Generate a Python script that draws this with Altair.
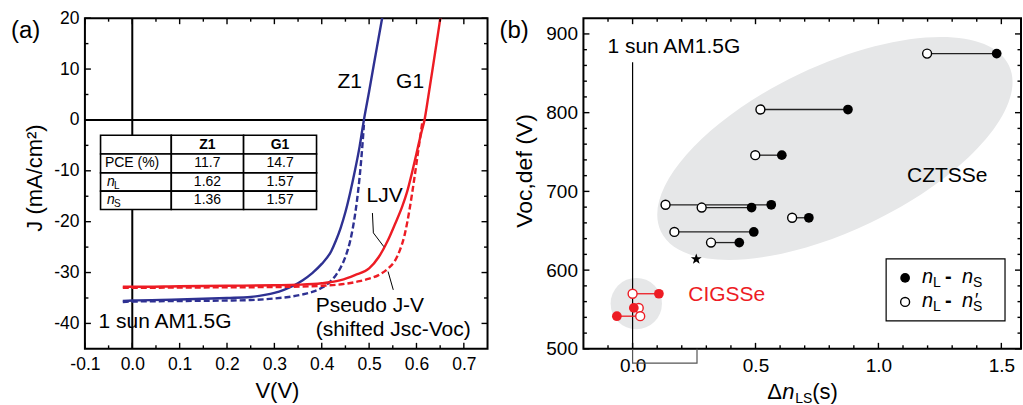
import altair as alt
import pandas as pd

FONT = "Liberation Sans"
BLUE = "#2e3192"
RED = "#ed1c24"
SHADE = "#e6e7e8"

# ---------------- Panel (a) data: J-V curves ----------------
Z1_LJV_V = [-0.02, 0.00, 0.10, 0.20, 0.25, 0.28, 0.30, 0.32, 0.34, 0.36, 0.38, 0.40, 0.42, 0.43, 0.44, 0.45, 0.46, 0.47, 0.48, 0.489, 0.50, 0.51, 0.52, 0.53]
Z1_LJV_J = [-35.6, -35.5, -35.3, -35.0, -34.8, -34.4, -34.0, -33.4, -32.6, -31.5, -30.1, -28.3, -25.8, -23.7, -21.2, -18.1, -14.3, -10.0, -5.2, 0.0, 5.6, 10.9, 16.1, 21.3]
Z1_PJV_V = [-0.02, 0.00, 0.10, 0.20, 0.25, 0.30, 0.33, 0.36, 0.38, 0.40, 0.41, 0.42, 0.43, 0.44, 0.45, 0.46, 0.47, 0.475, 0.48, 0.485, 0.489]
Z1_PJV_J = [-35.8, -35.7, -35.6, -35.5, -35.4, -35.1, -34.8, -34.3, -33.8, -33.0, -32.4, -31.6, -30.5, -29.0, -26.9, -23.8, -18.8, -15.4, -11.2, -6.0, -1.0]
G1_LJV_V = [-0.02, 0.00, 0.10, 0.20, 0.30, 0.35, 0.40, 0.44, 0.47, 0.50, 0.52, 0.54, 0.555, 0.57, 0.58, 0.59, 0.60, 0.61, 0.617, 0.625, 0.635, 0.645, 0.652]
G1_LJV_J = [-32.8, -32.8, -32.7, -32.6, -32.5, -32.4, -32.1, -31.5, -30.5, -29.2, -27.0, -23.6, -20.4, -17.0, -14.2, -10.6, -6.6, -2.6, 0.0, 4.6, 10.6, 16.7, 21.0]
G1_PJV_V = [-0.02, 0.00, 0.10, 0.20, 0.30, 0.40, 0.45, 0.48, 0.50, 0.52, 0.54, 0.555, 0.565, 0.575, 0.585, 0.595, 0.605, 0.613]
G1_PJV_J = [-33.0, -33.0, -32.95, -32.9, -32.85, -32.6, -32.2, -31.7, -31.2, -30.5, -29.2, -27.6, -25.6, -22.6, -17.8, -11.8, -5.2, 0.0]

# inset table
TABLE_HEADER = ["Z1", "G1"]
TABLE_ROW_NAMES = ["PCE (%)", "n", "n"]
TABLE_ROW_SUBS = ["L", "S"]
TABLE_Z1 = ["11.7", "1.62", "1.36"]
TABLE_G1 = ["14.7", "1.57", "1.57"]
TABLE_COL_EDGES = [-0.067, 0.0824, 0.235, 0.389]      # in V
TABLE_ROW_EDGES = [-3.0, -6.7, -10.4, -14.0, -17.6]   # in J

# leader lines
LJV_LEADER_V = [0.507, 0.509, 0.531]
LJV_LEADER_J = [-18.3, -22.2, -24.9]
PJV_LEADER_V = [0.540, 0.551]
PJV_LEADER_J = [-29.8, -33.4]

A_X_MAJOR = [-0.1, 0.0, 0.1, 0.2, 0.3, 0.4, 0.5, 0.6, 0.7]
A_X_MINOR = [-0.05, 0.05, 0.15, 0.25, 0.35, 0.45, 0.55, 0.65]
A_Y_MAJOR = [-40, -30, -20, -10, 0, 10, 20]
A_Y_MINOR = [-35, -25, -15, -5, 5, 15]

# ---------------- Panel (b) data ----------------
CZTS_VOC = [875, 804, 746, 683, 679.5, 666.5, 648.5, 635]
CZTS_DN_S = [1.481, 0.876, 0.607, 0.564, 0.484, 0.717, 0.493, 0.434]
CZTS_DN_SP = [1.198, 0.520, 0.499, 0.134, 0.281, 0.649, 0.170, 0.319]
CIGS_VOC = [570, 552, 541.5]
CIGS_DN_S = [0.107, 0.005, -0.064]
CIGS_DN_SP = [0.0, 0.025, 0.031]
STAR_DN = [0.259]
STAR_VOC = [614]
ELLIPSE_CENTER = [0.823, 754.6]
CIRCLE_CENTER = [0.015, 557.5]
SUN_LINE_DN = [0.0, 0.0]
SUN_LINE_VOC = [864, 500]
BRACKET_DN = [0.0, 0.0, 0.262, 0.262]
BRACKET_VOC = [500, 482, 482, 500]

B_X_MAJOR = [0.0, 0.5, 1.0, 1.5]
B_X_MINOR = [-0.1, 0.1, 0.2, 0.3, 0.4, 0.6, 0.7, 0.8, 0.9, 1.1, 1.2, 1.3, 1.4]
B_Y_MAJOR = [500, 600, 700, 800, 900]
B_Y_MINOR = [520, 540, 560, 580, 620, 640, 660, 680, 720, 740, 760, 780, 820, 840, 860, 880]

AW, AH = 403, 331
BW, BH = 438, 331

xa = alt.Scale(domain=[-0.1, 0.75], nice=False, zero=False)
ya = alt.Scale(domain=[-45, 20], nice=False, zero=False)
xb = alt.Scale(domain=[-0.2, 1.58], nice=False, zero=False)
yb = alt.Scale(domain=[500, 920], nice=False, zero=False)

ONE = pd.DataFrame({"k": [0]})

ELLIPSE_PATH = "M-1,0A1,0.4276,0,1,1,1,0A1,0.4276,0,1,1,-1,0"
STAR_PATH = ("M0,-1L0.235,-0.324L0.951,-0.309L0.38,0.124L0.588,0.809L0,0.4"
             "L-0.588,0.809L-0.38,0.124L-0.951,-0.309L-0.235,-0.324L0,-1")


def axis(values, fmt, size, pad):
    return alt.Axis(values=values, labelExpr="replace(format(datum.value, '%s'), '\u2212', '-')" % fmt,
                    ticks=False, tickSize=0, domain=False, grid=False, title=None,
                    labelFontSize=size, labelPadding=pad, labelColor="black", labelFont=FONT,
                    labelFlush=False, labelOverlap=False)


AXA_X = axis(A_X_MAJOR, ".1f", 17.5, 7)
AXA_Y = axis(A_Y_MAJOR, "d", 17.5, 6)
AXB_X = axis(B_X_MAJOR, ".1f", 19, 8)
AXB_Y = axis(B_Y_MAJOR, "d", 19, 6)


def XA(f): return alt.X(f, scale=xa, axis=AXA_X)
def YA(f): return alt.Y(f, scale=ya, axis=AXA_Y)
def XB(f): return alt.X(f, scale=xb, axis=AXB_X)
def YB(f): return alt.Y(f, scale=yb, axis=AXB_Y)


def ptext(text, x, y, size, color="black", align="left", baseline="alphabetic",
          style="normal", weight="normal", angle=0):
    return alt.Chart(ONE).mark_text(
        text=text, fontSize=size, font=FONT, color=color, align=align,
        baseline=baseline, fontStyle=style, fontWeight=weight, angle=angle
    ).encode(x=alt.value(x), y=alt.value(y))


def ticks(xvals, yvals, X, Y, length, W, H):
    out = []
    dx = pd.DataFrame({"v": xvals})
    dy = pd.DataFrame({"v": yvals})
    out.append(alt.Chart(dx).mark_rule(color="black", strokeWidth=1.4).encode(
        x=X("v:Q"), y=alt.value(H), y2=alt.value(H - length)))
    out.append(alt.Chart(dx).mark_rule(color="black", strokeWidth=1.4).encode(
        x=X("v:Q"), y=alt.value(0), y2=alt.value(length)))
    out.append(alt.Chart(dy).mark_rule(color="black", strokeWidth=1.4).encode(
        y=Y("v:Q"), x=alt.value(0), x2=alt.value(length)))
    out.append(alt.Chart(dy).mark_rule(color="black", strokeWidth=1.4).encode(
        y=Y("v:Q"), x=alt.value(W), x2=alt.value(W - length)))
    return out


# ================= Panel (a) =================
a_layers = []
a_layers.append(alt.Chart(pd.DataFrame({"V": [0.0]})).mark_rule(color="black", strokeWidth=2).encode(x=XA("V:Q")))
a_layers.append(alt.Chart(pd.DataFrame({"J": [0.0]})).mark_rule(color="black", strokeWidth=2).encode(y=YA("J:Q")))


def curve(V, J, color, dash):
    d = pd.DataFrame({"V": V, "J": J})
    kw = dict(color=color, strokeWidth=2.4, clip=True, interpolate="monotone")
    if dash:
        kw["strokeDash"] = [6, 3]
    return alt.Chart(d).mark_line(**kw).encode(x=XA("V:Q"), y=YA("J:Q"))


a_layers += [curve(Z1_PJV_V, Z1_PJV_J, BLUE, True), curve(Z1_LJV_V, Z1_LJV_J, BLUE, False),
             curve(G1_PJV_V, G1_PJV_J, RED, True), curve(G1_LJV_V, G1_LJV_J, RED, False)]

cells = []
for r in range(len(TABLE_ROW_EDGES) - 1):
    for c in range(len(TABLE_COL_EDGES) - 1):
        cells.append({"xa0": TABLE_COL_EDGES[c], "xa1": TABLE_COL_EDGES[c + 1],
                      "ya0": TABLE_ROW_EDGES[r], "ya1": TABLE_ROW_EDGES[r + 1]})
a_layers.append(alt.Chart(pd.DataFrame(cells)).mark_rect(fill="white", stroke="black", strokeWidth=1.6).encode(
    x=XA("xa0:Q"), x2="xa1", y=YA("ya0:Q"), y2="ya1"))

col_c = [(TABLE_COL_EDGES[i] + TABLE_COL_EDGES[i + 1]) / 2 for i in range(3)]
row_c = [(TABLE_ROW_EDGES[i] + TABLE_ROW_EDGES[i + 1]) / 2 for i in range(4)]
hdr = pd.DataFrame({"t": TABLE_HEADER, "x": col_c[1:], "y": [row_c[0]] * 2})
a_layers.append(alt.Chart(hdr).mark_text(fontSize=14, font=FONT, fontWeight="bold", baseline="middle", color="black").encode(
    x=XA("x:Q"), y=YA("y:Q"), text="t:N"))
vals = pd.DataFrame({"t": TABLE_Z1 + TABLE_G1, "x": [col_c[1]] * 3 + [col_c[2]] * 3, "y": row_c[1:] * 2})
a_layers.append(alt.Chart(vals).mark_text(fontSize=14, font=FONT, baseline="middle", color="black").encode(
    x=XA("x:Q"), y=YA("y:Q"), text="t:N"))
names = pd.DataFrame({"t": TABLE_ROW_NAMES, "y": row_c[1:]})
a_layers.append(alt.Chart(names.iloc[:1]).mark_text(fontSize=14, font=FONT, baseline="middle", align="left", color="black").encode(
    x=alt.value(20), y=YA("y:Q"), text="t:N"))
a_layers.append(alt.Chart(names.iloc[1:].reset_index(drop=True)).mark_text(fontSize=14, font=FONT, baseline="middle", align="left", fontStyle="italic", color="black").encode(
    x=alt.value(22), y=YA("y:Q"), text="t:N"))
subs = pd.DataFrame({"t": TABLE_ROW_SUBS, "y": row_c[2:]})
a_layers.append(alt.Chart(subs).mark_text(fontSize=10, font=FONT, baseline="middle", align="left", dy=4, color="black").encode(
    x=alt.value(29), y=YA("y:Q"), text="t:N"))

for V, J in [(LJV_LEADER_V, LJV_LEADER_J), (PJV_LEADER_V, PJV_LEADER_J)]:
    d = pd.DataFrame({"V": V, "J": J, "o": list(range(len(V)))})
    a_layers.append(alt.Chart(d).mark_line(color="black", strokeWidth=1).encode(
        x=XA("V:Q"), y=YA("J:Q"), order="o:Q"))

a_layers += ticks(A_X_MAJOR, A_Y_MAJOR, XA, YA, 6, AW, AH)
a_layers += ticks(A_X_MINOR, A_Y_MINOR, XA, YA, 3.5, AW, AH)

a_layers += [
    ptext("(a)", -74, 13, 24, baseline="middle"),
    ptext("Z1", 265, 63.7, 21, align="center", baseline="middle"),
    ptext("G1", 325.5, 63.7, 21, align="center", baseline="middle"),
    ptext("LJV", 300, 177.5, 21, align="center", baseline="middle"),
    ptext("Pseudo J-V", 231, 288.5, 21, baseline="middle"),
    ptext("(shifted Jsc-Voc)", 231, 312, 21, baseline="middle"),
    ptext("1 sun AM1.5G", 13.7, 304.5, 21, baseline="middle"),
    ptext("J (mA/cm\u00b2)", -50, 160, 22, align="center", baseline="middle", angle=270),
    ptext("V(V)", 192.7, 380, 22, align="center"),
]
panel_a = alt.layer(*a_layers).properties(width=AW, height=AH)

# ================= Panel (b) =================
b_layers = []
b_layers.append(alt.Chart(pd.DataFrame({"x": [ELLIPSE_CENTER[0]], "y": [ELLIPSE_CENTER[1]]})).mark_point(
    shape=ELLIPSE_PATH, filled=True, color=SHADE, opacity=1, strokeWidth=0, size=148996, angle=334.5).encode(
    x=XB("x:Q"), y=YB("y:Q")))
b_layers.append(alt.Chart(pd.DataFrame({"x": [CIRCLE_CENTER[0]], "y": [CIRCLE_CENTER[1]]})).mark_point(
    shape="circle", filled=True, color=SHADE, opacity=1, strokeWidth=0, size=2642).encode(
    x=XB("x:Q"), y=YB("y:Q")))

d = pd.DataFrame({"x": BRACKET_DN, "y": BRACKET_VOC, "o": list(range(4))})
b_layers.append(alt.Chart(d).mark_line(color="#555555", strokeWidth=1.2).encode(
    x=XB("x:Q"), y=YB("y:Q"), order="o:Q"))
d = pd.DataFrame({"x": SUN_LINE_DN, "y": SUN_LINE_VOC, "o": [0, 1]})
b_layers.append(alt.Chart(d).mark_line(color="black", strokeWidth=1.2).encode(
    x=XB("x:Q"), y=YB("y:Q"), order="o:Q"))

czts = pd.DataFrame({"voc": CZTS_VOC, "s": CZTS_DN_S, "sp": CZTS_DN_SP})
cigs = pd.DataFrame({"voc": CIGS_VOC, "s": CIGS_DN_S, "sp": CIGS_DN_SP})
for df_, col in [(czts, "#222222"), (cigs, RED)]:
    b_layers.append(alt.Chart(df_).mark_rule(color=col, strokeWidth=1.3).encode(
        x=XB("sp:Q"), x2="s", y=YB("voc:Q")))
for df_, col in [(czts, "black"), (cigs, RED)]:
    b_layers.append(alt.Chart(df_).mark_circle(size=80, fill="white", stroke=col, strokeWidth=1.4, opacity=1).encode(
        x=XB("sp:Q"), y=YB("voc:Q")))
    b_layers.append(alt.Chart(df_).mark_circle(size=95, color=col, opacity=1).encode(
        x=XB("s:Q"), y=YB("voc:Q")))
b_layers.append(alt.Chart(pd.DataFrame({"x": STAR_DN, "y": STAR_VOC})).mark_point(
    shape=STAR_PATH, filled=True, color="black", opacity=1, strokeWidth=0, size=130).encode(x=XB("x:Q"), y=YB("y:Q")))

b_layers += ticks(B_X_MAJOR, B_Y_MAJOR, XB, YB, 6, BW, BH)
b_layers += ticks(B_X_MINOR, B_Y_MINOR, XB, YB, 3.5, BW, BH)

b_layers.append(alt.Chart(ONE).mark_rect(fill="white", stroke="black", strokeWidth=1.2).encode(
    x=alt.value(303), x2=alt.value(422), y=alt.value(241), y2=alt.value(303)))
b_layers.append(alt.Chart(ONE).mark_circle(size=95, color="black", opacity=1).encode(
    x=alt.value(322), y=alt.value(260)))
b_layers.append(alt.Chart(ONE).mark_circle(size=80, fill="white", stroke="black", strokeWidth=1.4, opacity=1).encode(
    x=alt.value(322), y=alt.value(284)))
for dy in [0, 24]:
    b_layers += [
        ptext("n", 339, 265 + dy, 20, style="italic"),
        ptext("L", 350, 269 + dy, 14),
        ptext("-", 362, 265 + dy, 20, weight="bold"),
        ptext("n", 379, 265 + dy, 20, style="italic"),
        ptext("S", 390, 269 + dy, 14),
    ]
b_layers.append(ptext("\u2032", 392, 288, 18))

b_layers += [
    ptext("(b)", -84, 13, 24, baseline="middle"),
    ptext("1 sun AM1.5G", 24, 35.3, 21),
    ptext("CZTSSe", 324, 157.5, 21, baseline="middle"),
    ptext("CIGSSe", 105, 277, 21, color=RED, baseline="middle"),
    ptext("Voc,def (V)", -58, 153, 23, align="center", baseline="middle", angle=270),
    ptext("\u0394", 184, 381, 22),
    ptext("n", 199, 381, 22, style="italic"),
    ptext("LS", 212, 385, 14),
    ptext("(s)", 229, 381, 22),
]
panel_b = alt.layer(*b_layers).properties(width=BW, height=BH)

chart = alt.HConcatChart(hconcat=[panel_a, panel_b], spacing=96, bounds="flush").configure(
    font=FONT, background="white").configure_view(stroke="black", strokeWidth=2).properties(
    padding={"left": 10, "top": 8, "right": 0, "bottom": 0})

chart.save("out.html", embed_options={"renderer": "svg", "actions": False})
